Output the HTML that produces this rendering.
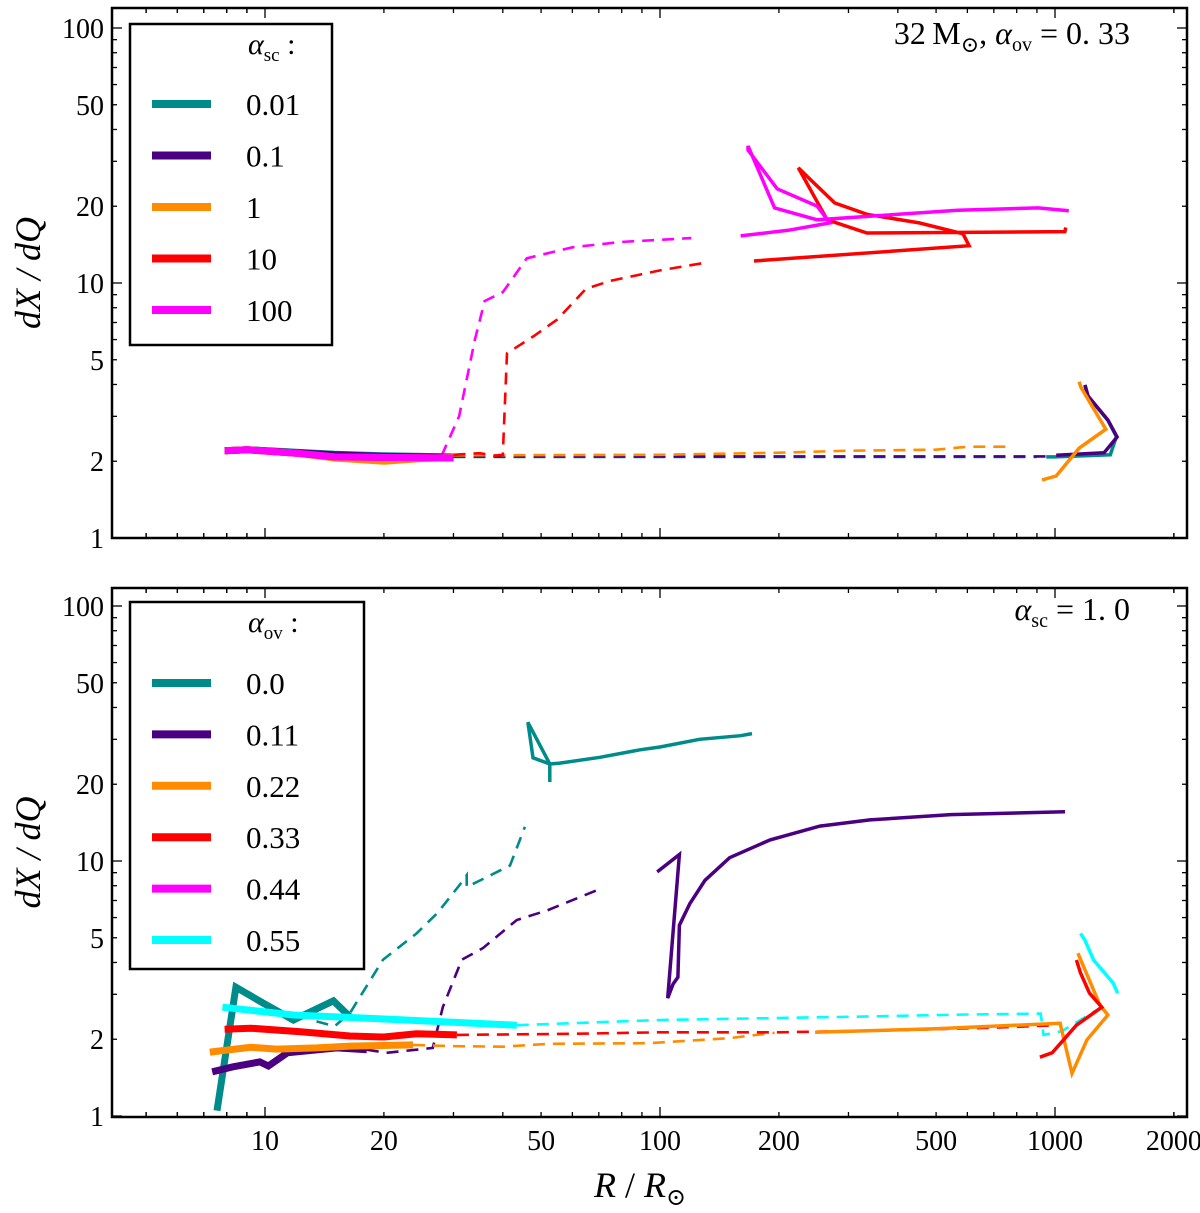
<!DOCTYPE html>
<html><head><meta charset="utf-8">
<style>
html,body{margin:0;padding:0;background:#fff;}
svg{display:block;font-family:"Liberation Serif","DejaVu Serif",serif;}
</style></head>
<body>
<svg id="chart" width="1200" height="1213" viewBox="0 0 1200 1213" xmlns="http://www.w3.org/2000/svg">
<g id="top-panel"></g>
<g id="bottom-panel"></g>
</svg>
<script>
// ---- data ----
const xTickValues = [10, 20, 50, 100, 200, 500, 1000, 2000];
const xTickLabels = ["10", "20", "50", "100", "200", "500", "1000", "2000"];
const yTickValues = [1, 2, 5, 10, 20, 50, 100];
const yTickLabels = ["1", "2", "5", "10", "20", "50", "100"];
const topLegendLabels = ["0.01", "0.1", "1", "10", "100"];
const bottomLegendLabels = ["0.0", "0.11", "0.22", "0.33", "0.44", "0.55"];

// top panel series (R, dX/dQ)
const topTealThickR = [7.9, 9, 12, 15, 20, 30];
const topTealThickV = [2.2, 2.22, 2.17, 2.13, 2.1, 2.08];
const topIndigoThickR = [7.9, 9, 12, 15, 20, 30];
const topIndigoThickV = [2.2, 2.22, 2.16, 2.12, 2.09, 2.07];
const topOrangeThickR = [7.9, 9, 12, 15, 20, 25, 30];
const topOrangeThickV = [2.2, 2.22, 2.15, 2.06, 2.0, 2.05, 2.07];
const topRedThickR = [7.9, 9, 12, 15, 20, 30];
const topRedThickV = [2.2, 2.22, 2.15, 2.08, 2.07, 2.06];
const topMagentaThickR = [7.9, 9, 12, 15, 20, 30];
const topMagentaThickV = [2.2, 2.22, 2.15, 2.08, 2.07, 2.06];

const topTealDashR = [30, 100, 300, 900];
const topTealDashV = [2.08, 2.08, 2.08, 2.08];
const topIndigoDashR = [30, 100, 300, 950];
const topIndigoDashV = [2.09, 2.09, 2.09, 2.09];
const topOrangeDashR = [30, 100, 200, 300, 500, 600, 780];
const topOrangeDashV = [2.11, 2.12, 2.16, 2.2, 2.22, 2.28, 2.28];
const topRedDashR = [30, 35, 38, 40, 41, 48, 55, 65, 75, 100, 130];
const topRedDashV = [2.12, 2.15, 2.1, 2.12, 5.3, 6.2, 7.2, 9.5, 10.2, 11.2, 12];
const topMagentaDashR = [28, 31, 34, 36, 40, 46, 60, 80, 120];
const topMagentaDashV = [2.1, 3, 6, 8.5, 9.2, 12.5, 13.8, 14.5, 15];

const topTealSolidR = [950, 1000, 1380, 1430, 1360, 1210, 1190];
const topTealSolidV = [2.08, 2.08, 2.12, 2.5, 2.9, 3.6, 3.98];
const topIndigoSolidR = [1007, 1331, 1436, 1362, 1213, 1191];
const topIndigoSolidV = [2.11, 2.16, 2.49, 2.9, 3.6, 3.98];
const topOrangeSolidR = [927, 1007, 1151, 1345, 1163, 1151];
const topOrangeSolidV = [1.69, 1.75, 2.25, 2.67, 3.9, 4.1];
const topRedSolidR = [173, 606, 585, 453, 334, 277, 237, 224, 265, 334, 1059, 1065];
const topRedSolidV = [12.2, 14.0, 15.6, 17.2, 18.6, 20.6, 26, 28.3, 17.7, 15.7, 15.9, 16.5];
const topMagentaSolidR = [160, 211, 269, 250, 198, 167, 167, 195, 250, 568, 906, 1084];
const topMagentaSolidV = [15.3, 16.1, 17.2, 20.0, 23.4, 33.2, 34.5, 19.7, 17.7, 19.3, 19.7, 19.2];

// bottom panel series
const botTealThickR = [7.56, 8.44, 9.9, 11.8, 14.9, 16.4];
const botTealThickV = [1.05, 3.2, 2.77, 2.38, 2.83, 2.45];
const botTealDashR = [13.5, 15, 16.4, 19.9, 24.2, 27.3, 31.1, 32.4, 32.4, 41.7, 45.5];
const botTealDashV = [2.35, 2.25, 2.53, 4.1, 5.2, 6.25, 8.05, 8.8, 7.9, 9.6, 13.6];
const botTealSolidR = [52.6, 52.6, 47.7, 46.3, 52.6, 55.8, 70.5, 89, 100, 126, 160, 171];
const botTealSolidV = [20.4, 24.0, 25.4, 35, 24.0, 24.2, 25.5, 27.3, 28, 30, 31, 31.6];
const botIndigoThickR = [7.35, 8.3, 9.7, 10.2, 11.4, 15.2, 18.1];
const botIndigoThickV = [1.49, 1.56, 1.63, 1.57, 1.77, 1.85, 1.82];
const botIndigoDashR = [18.1, 20.3, 24.2, 26.6, 28.2, 31.5, 35.6, 43.4, 51.8, 69.6];
const botIndigoDashV = [1.82, 1.77, 1.82, 1.85, 2.67, 4.1, 4.55, 5.87, 6.4, 7.7];
const botIndigoSolidR = [98.4, 112, 104.6, 108, 111, 112, 119, 130, 150, 190, 254, 340, 545, 1060];
const botIndigoSolidV = [9.06, 10.6, 2.9, 3.3, 3.5, 5.6, 6.8, 8.4, 10.3, 12.1, 13.7, 14.5, 15.2, 15.6];
const botOrangeThickR = [7.25, 9.2, 10.7, 13.5, 16.4, 23.7];
const botOrangeThickV = [1.78, 1.86, 1.83, 1.85, 1.88, 1.9];
const botOrangeDashR = [23.7, 29.4, 40, 52.6, 94, 150, 195];
const botOrangeDashV = [1.9, 1.88, 1.87, 1.92, 1.93, 2.02, 2.12];
const botOrangeSolidR = [247, 500, 1030, 1104, 1205, 1361, 1300, 1143];
const botOrangeSolidV = [2.13, 2.2, 2.31, 1.47, 1.99, 2.49, 2.72, 4.35];
const botRedThickR = [7.9, 9.2, 12.3, 16.4, 20, 24.2, 30.6];
const botRedThickV = [2.19, 2.21, 2.14, 2.06, 2.04, 2.1, 2.08];
const botRedDashR = [30.6, 60, 100, 200, 400, 700, 1010];
const botRedDashV = [2.08, 2.1, 2.13, 2.13, 2.17, 2.22, 2.27];
const botRedSolidR = [916, 984, 1133, 1314, 1223, 1160, 1133];
const botRedSolidV = [1.70, 1.77, 2.27, 2.67, 3.03, 3.64, 4.09];
const botCyanThickR = [7.8, 11.8, 20, 43.4];
const botCyanThickV = [2.67, 2.49, 2.4, 2.27];
const botCyanDashR = [43.4, 100, 300, 600, 920, 935, 1040, 1300];
const botCyanDashV = [2.27, 2.38, 2.45, 2.5, 2.52, 2.08, 2.15, 2.65];
const botCyanSolidR = [1160, 1190, 1252, 1404, 1440];
const botCyanSolidV = [5.2, 4.9, 4.09, 3.32, 3.03];

// ---- layout ----
const NS = "http://www.w3.org/2000/svg";
const X0 = 112, X1 = 1187;
const xPx = r => 265 + 395 * (Math.log10(r) - 1);
const panels = {
  top: { g: document.getElementById('top-panel'), yTop: 8, yBot: 538, y1: 538 },
  bottom: { g: document.getElementById('bottom-panel'), yTop: 588, yBot: 1117, y1: 1116 }
};
const yPxFn = p => v => p.y1 - 255 * Math.log10(v);
const C = { teal: "#008B8B", indigo: "#4B0082", orange: "#FF8C00", red: "#FF0000", magenta: "#FF00FF", cyan: "#00FFFF" };

function mk(tag, attrs, parent) {
  const el = document.createElementNS(NS, tag);
  for (const k in attrs) el.setAttribute(k, attrs[k]);
  parent.appendChild(el);
  return el;
}
function series(p, R, V, color, kind, name) {
  const y = yPxFn(p);
  const d = R.map((r, i) => (i ? "L" : "M") + xPx(r).toFixed(1) + "," + y(V[i]).toFixed(1)).join(" ");
  const w = kind === "thick" ? 7 : kind === "solid" ? 3.5 : 2.6;
  const el = mk("path", { d: d, fill: "none", stroke: color, "stroke-width": w, "stroke-linejoin": "miter", "clip-path": "url(#clip-" + p.key + ")" }, p.g);
  if (kind === "dash") el.setAttribute("stroke-dasharray", "12 8");
  
  
}
function axes(p, showX) {
  const y = yPxFn(p);
  const defs = mk("defs", {}, p.g);
  const cp = mk("clipPath", { id: "clip-" + p.key }, defs);
  mk("rect", { x: X0, y: p.yTop, width: X1 - X0, height: p.yBot - p.yTop }, cp);
  const tg = mk("g", { stroke: "#000", "stroke-width": 1.3 }, p.g);
  
  
  for (let dec = 1; dec <= 1000; dec *= 10) {
    for (let m = 1; m <= 9; m++) {
      const v = dec * m; const x = xPx(v);
      if (x < X0 || x > X1) continue;
      const L = m === 1 ? 10 : 5;
      mk("line", { x1: x, x2: x, y1: p.yBot, y2: p.yBot - L }, tg);
      mk("line", { x1: x, x2: x, y1: p.yTop, y2: p.yTop + L }, tg);
    }
  }
  for (const v of [5, 6, 7, 8, 9, 2000]) {
    const x = xPx(v); if (x < X0 || x > X1) continue;
    mk("line", { x1: x, x2: x, y1: p.yBot, y2: p.yBot - 5 }, tg);
    mk("line", { x1: x, x2: x, y1: p.yTop, y2: p.yTop + 5 }, tg);
  }
  for (let dec = 1; dec <= 100; dec *= 10) {
    for (let m = 1; m <= 9; m++) {
      const v = dec * m; const yy = y(v);
      if (yy < p.yTop || yy > p.yBot + 1) continue;
      const L = m === 1 ? 10 : 5;
      mk("line", { x1: X0, x2: X0 + L, y1: yy, y2: yy }, tg);
      mk("line", { x1: X1, x2: X1 - L, y1: yy, y2: yy }, tg);
    }
  }
  yTickValues.forEach((v, i) => {
    const t = mk("text", { x: X0 - 8, y: y(v) + 10, "text-anchor": "end", "font-size": 28 }, p.g);
    t.textContent = yTickLabels[i];
    
    
  });
  if (showX) {
    xTickValues.forEach((v, i) => {
      const t = mk("text", { x: xPx(v), y: p.yBot + 33, "text-anchor": "middle", "font-size": 28 }, p.g);
      t.textContent = xTickLabels[i];
      
      
    });
  }
  const yl = mk("text", { x: 0, y: 0, transform: "translate(40," + ((p.yTop + p.yBot) / 2) + ") rotate(-90)", "text-anchor": "middle", "font-size": 36, "font-style": "italic" }, p.g);
  yl.textContent = "dX / dQ";
  
  
}
function frame(p) {
  const f = mk("rect", { x: X0, y: p.yTop, width: X1 - X0, height: p.yBot - p.yTop, fill: "none", stroke: "#000", "stroke-width": 2.5 }, p.g);
  
  
}
function legend(p, box, titleMain, titleSub, labels, colors, rowY0, step) {
  const lg = mk("g", {}, p.g);
  
  
  mk("rect", { x: box[0], y: box[1], width: box[2], height: box[3], fill: "#fff", stroke: "#000", "stroke-width": 2.5 }, lg);
  const t = mk("text", { x: 248, y: box[1] + 30, "font-size": 30 }, lg);
  const a = mk("tspan", { "font-style": "italic" }, t); a.textContent = titleMain;
  const s = mk("tspan", { "font-size": 19, dy: 7 }, t); s.textContent = titleSub;
  const c = mk("tspan", { dy: -7 }, t); c.textContent = " :";
  labels.forEach((lab, i) => {
    const yy = rowY0 + i * step;
    const ln = mk("line", { x1: 152, x2: 211, y1: yy, y2: yy, stroke: colors[i], "stroke-width": 8 }, lg);
    
    
    const tx = mk("text", { x: 246, y: yy + 11, "font-size": 31 }, lg);
    tx.textContent = lab;
    
    
  });
}

// ---- top panel ----
const T = panels.top; T.key = "top";
axes(T, false);
series(T, topTealDashR, topTealDashV, C.teal, "dash", "teal-dashed");
series(T, topIndigoDashR, topIndigoDashV, C.indigo, "dash", "indigo-dashed");
series(T, topOrangeDashR, topOrangeDashV, C.orange, "dash", "orange-dashed");
series(T, topRedDashR, topRedDashV, C.red, "dash", "red-dashed");
series(T, topMagentaDashR, topMagentaDashV, C.magenta, "dash", "magenta-dashed");
series(T, topTealSolidR, topTealSolidV, C.teal, "solid", "teal-solid");
series(T, topIndigoSolidR, topIndigoSolidV, C.indigo, "solid", "indigo-solid");
series(T, topOrangeSolidR, topOrangeSolidV, C.orange, "solid", "orange-solid");
series(T, topRedSolidR, topRedSolidV, C.red, "solid", "red-solid");
series(T, topMagentaSolidR, topMagentaSolidV, C.magenta, "solid", "magenta-solid");
series(T, topTealThickR, topTealThickV, C.teal, "thick", "teal-thick");
series(T, topIndigoThickR, topIndigoThickV, C.indigo, "thick", "indigo-thick");
series(T, topOrangeThickR, topOrangeThickV, C.orange, "thick", "orange-thick");
series(T, topRedThickR, topRedThickV, C.red, "thick", "red-thick");
series(T, topMagentaThickR, topMagentaThickV, C.magenta, "thick", "magenta-thick");
frame(T);
legend(T, [130, 24, 202, 321], "α", "sc", topLegendLabels, [C.teal, C.indigo, C.orange, C.red, C.magenta], 104, 51.5);
{
  const t = mk("text", { x: 1130, y: 44, "text-anchor": "end", "font-size": 32 }, T.g);
  t.innerHTML = '32\u2009M<tspan font-size="22" dy="8">\u2299</tspan><tspan dy="-8">, </tspan><tspan font-style="italic">α</tspan><tspan font-size="20" dy="7">ov</tspan><tspan dy="-7"> = 0. 33</tspan>';
  
  
}

// ---- bottom panel ----
const B = panels.bottom; B.key = "bottom";
axes(B, true);
series(B, botTealDashR, botTealDashV, C.teal, "dash", "teal-dashed");
series(B, botIndigoDashR, botIndigoDashV, C.indigo, "dash", "indigo-dashed");
series(B, botOrangeDashR, botOrangeDashV, C.orange, "dash", "orange-dashed");
series(B, botRedDashR, botRedDashV, C.red, "dash", "red-dashed");
series(B, botCyanDashR, botCyanDashV, C.cyan, "dash", "cyan-dashed");
series(B, botTealSolidR, botTealSolidV, C.teal, "solid", "teal-solid");
series(B, botIndigoSolidR, botIndigoSolidV, C.indigo, "solid", "indigo-solid");
series(B, botOrangeSolidR, botOrangeSolidV, C.orange, "solid", "orange-solid");
series(B, botRedSolidR, botRedSolidV, C.red, "solid", "red-solid");
series(B, botCyanSolidR, botCyanSolidV, C.cyan, "solid", "cyan-solid");
series(B, botTealThickR, botTealThickV, C.teal, "thick", "teal-thick");
series(B, botIndigoThickR, botIndigoThickV, C.indigo, "thick", "indigo-thick");
series(B, botOrangeThickR, botOrangeThickV, C.orange, "thick", "orange-thick");
series(B, botRedThickR, botRedThickV, C.red, "thick", "red-thick");
series(B, botCyanThickR, botCyanThickV, C.cyan, "thick", "cyan-thick");
frame(B);
legend(B, [130, 602, 234, 367], "α", "ov", bottomLegendLabels, [C.teal, C.indigo, C.orange, C.red, C.magenta, C.cyan], 683, 51.4);
{
  const t = mk("text", { x: 1130, y: 620, "text-anchor": "end", "font-size": 32 }, B.g);
  t.innerHTML = '<tspan font-style="italic">α</tspan><tspan font-size="20" dy="7">sc</tspan><tspan dy="-7"> = 1. 0</tspan>';
  
  
}
{
  const svg = document.getElementById('chart');
  const t = mk("text", { x: 640, y: 1197, "text-anchor": "middle", "font-size": 36 }, svg);
  t.innerHTML = '<tspan font-style="italic">R</tspan> / <tspan font-style="italic">R</tspan><tspan font-size="24" dy="8">\u2299</tspan>';
  
  
}
</script>
</body></html>
